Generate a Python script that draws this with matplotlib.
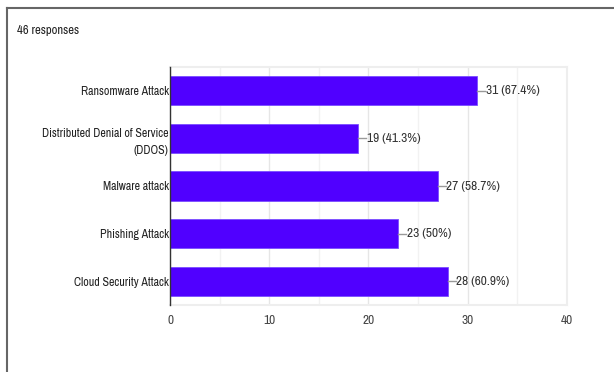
import numpy as np
import matplotlib.pyplot as plt
from matplotlib import font_manager
from matplotlib.lines import Line2D

categories = ['Ransomware Attack', 'Distributed Denial of Service\n(DDOS)',
              'Malware attack', 'Phishing Attack', 'Cloud Security Attack']
counts = [31, 19, 27, 23, 28]
percents = ['67.4%', '41.3%', '58.7%', '50%', '60.9%']
total_responses = 46

# prefer a condensed sans if one happens to be installed
narrow = sorted({f.name for f in font_manager.fontManager.ttflist
                 if 'Narrow' in f.name or 'Condensed' in f.name})
if narrow:
    plt.rcParams['font.family'] = [narrow[0], 'DejaVu Sans']
    scale = 1.0
else:
    plt.rcParams['font.family'] = ['Liberation Sans', 'DejaVu Sans']
    scale = 0.88

fs_cat = 8.6 * scale
fs_val = 9.6 * scale
fs_tick = 9.6 * scale
fs_head = 9.1 * scale

fig = plt.figure(figsize=(6.14, 3.72), dpi=100)
ax = fig.add_axes([0.277, 0.180, 0.646, 0.640])

y = np.arange(len(categories))
ax.barh(y, counts, height=0.61, color='#5000ff', edgecolor='#7a4dff', linewidth=0.6, zorder=3)

# leader line + value label at the end of each bar
for yi, c, p in zip(y, counts, percents):
    ax.plot([c, c + 0.8], [yi, yi], color='#999999', lw=1, zorder=3, clip_on=False)
    ax.text(c + 0.85, yi, f'{c} ({p})', va='center', ha='left', fontsize=fs_val, color='#333333')

ax.set_xlim(0, 40)
ax.set_ylim(len(categories) - 0.5, -0.5)
ax.set_yticks(y)
ax.set_yticklabels(categories, fontsize=fs_cat, color='#222222', linespacing=1.6)
ax.set_xticks([0, 10, 20, 30, 40])
ax.set_xticklabels(['0', '10', '20', '30', '40'], fontsize=fs_tick, color='#444444')
ax.set_xticks([5, 15, 25, 35], minor=True)
ax.tick_params(axis='both', which='both', length=0)
ax.tick_params(axis='x', pad=7)
ax.tick_params(axis='y', pad=1)

ax.grid(axis='x', which='major', color='#e6e6e6', lw=1, zorder=0)
ax.grid(axis='x', which='minor', color='#f2f2f2', lw=1, zorder=0)
for side in ['top', 'right', 'bottom']:
    ax.spines[side].set_color('#eeeeee')
    ax.spines[side].set_linewidth(1.5)
ax.spines['left'].set_color('#333333')
ax.spines['left'].set_linewidth(1)
ax.spines['left'].set_zorder(4)

fig.text(17 / 614, 1 - 30 / 372, f'{total_responses} responses', fontsize=fs_head,
         color='#222222', va='center', ha='left')

# outer frame (top and left edges of the card)
fig.add_artist(Line2D([7 / 614, 1], [1 - 7.5 / 372, 1 - 7.5 / 372], color='#666666', lw=1.5))
fig.add_artist(Line2D([7 / 614, 7 / 614], [0, 1 - 7.5 / 372], color='#666666', lw=1.5))

fig.savefig('out.png', dpi=100)
